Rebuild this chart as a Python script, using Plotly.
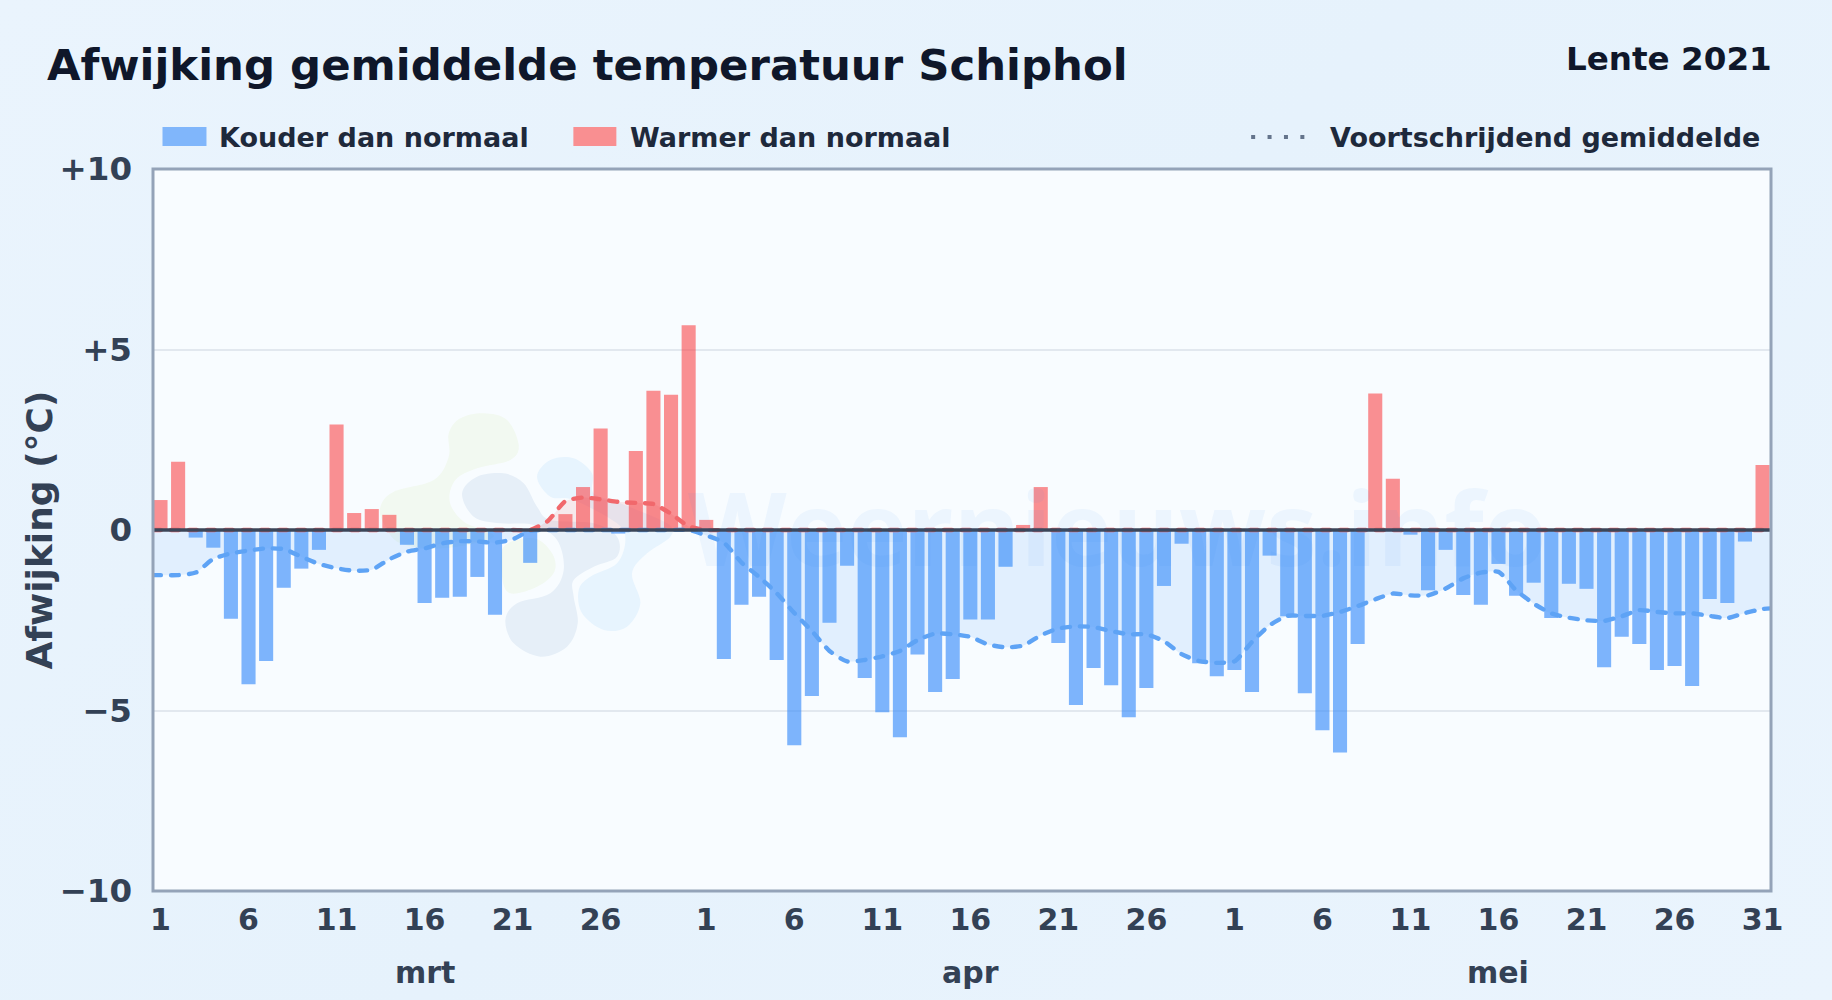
import plotly.graph_objects as go

# ---- data -------------------------------------------------------------
dagen = list(range(1, 93))
afwijking = [
    0.83, 1.89, -0.21, -0.49, -2.46, -4.27, -3.63, -1.6, -1.07, -0.55,
    2.92, 0.47, 0.58, 0.42, -0.41, -2.02, -1.88, -1.85, -1.3, -2.35,
    0.0, -0.91, 0.0, 0.44, 1.19, 2.81, -0.1, 2.19, 3.86, 3.75, 5.67,
    0.28, -3.57, -2.07, -1.85, -3.6, -5.96, -4.6, -2.57, -0.99, -4.1,
    -5.05, -5.74, -3.45, -4.49, -4.13, -2.48, -2.48, -1.02, 0.14, 1.19,
    -3.13, -4.85, -3.82, -4.3, -5.19, -4.38, -1.55, -0.38, -3.69, -4.05,
    -3.88, -4.49, -0.71, -2.39, -4.52, -5.55, -6.16, -3.16, 3.78, 1.42,
    -0.13, -1.67, -0.55, -1.8, -2.07, -0.94, -1.82, -1.46, -2.44, -1.49,
    -1.63, -3.8, -2.96, -3.16, -3.88, -3.77, -4.32, -1.91, -2.02, -0.32, 1.8,
]
gemiddelde = [
    -1.25, -1.25, -1.25, -1.18, -0.8, -0.65, -0.57, -0.51, -0.53, -0.74, -0.94,
    -1.06, -1.13, -1.1, -0.81, -0.6, -0.51, -0.37, -0.31, -0.32, -0.35,
    -0.26, -0.02, 0.25, 0.8, 0.9, 0.85, 0.78, 0.75, 0.72, 0.45, 0.1,
    -0.15, -0.35, -0.9, -1.3, -1.75, -2.3, -2.8, -3.35, -3.64, -3.6,
    -3.5, -3.35, -3.05, -2.87, -2.89, -2.96, -3.17, -3.25, -3.2, -2.92,
    -2.73, -2.67, -2.69, -2.8, -2.89, -2.89, -3.08, -3.44, -3.63, -3.68,
    -3.64, -3.1, -2.64, -2.38, -2.38, -2.38, -2.27, -2.11, -1.92, -1.76,
    -1.81, -1.81, -1.62, -1.34, -1.18, -1.16, -1.67, -2.04, -2.31, -2.43,
    -2.5, -2.52, -2.39, -2.22, -2.27, -2.31, -2.31, -2.38, -2.44, -2.3, -2.19, -2.17,
]
x_ticks = [1, 6, 11, 16, 21, 26, 32, 37, 42, 47, 52, 57, 62, 67, 72, 77, 82, 87, 92]
x_labels = ["1", "6", "11", "16", "21", "26", "1", "6", "11", "16", "21", "26",
            "1", "6", "11", "16", "21", "26", "31"]
y_ticks = [-10, -5, 0, 5, 10]
y_labels = ["\u221210", "\u22125", "0", "+5", "+10"]
maanden = ["mrt", "apr", "mei"]
maand_x = [16.0, 47.03, 77.0]

X_MIN, X_MAX = 0.574, 92.48
gem_dagen = [X_MIN] + dagen + [X_MAX]

koud = [v if v < 0 else None for v in afwijking]
warm = [v if v > 0 else None for v in afwijking]
gem_koud = [min(v, 0) for v in gemiddelde]
gem_warm = [max(v, 0) for v in gemiddelde]

# ---- layout constants ---------------------------------------------------
W, H = 1832, 1000
L, R, T, B = 152.5, 1771, 169, 891
FONT = "DejaVu Sans"


def px(x):
    return (x - L) / (R - L)


def py(y):
    return (B - y) / (B - T)


def blob(points, ox=360, oy=390, k=1 / 3):
    """Closed smooth path through points given in crop pixels."""
    p = [(px(ox + a * k), py(oy + b * k)) for a, b in points]
    n = len(p)
    d = f"M{p[0][0]:.5f},{p[0][1]:.5f}"
    for i in range(n):
        p0, p1, p2, p3 = p[i - 1], p[i], p[(i + 1) % n], p[(i + 2) % n]
        c1 = (p1[0] + (p2[0] - p0[0]) / 6, p1[1] + (p2[1] - p0[1]) / 6)
        c2 = (p2[0] - (p3[0] - p1[0]) / 6, p2[1] - (p3[1] - p1[1]) / 6)
        d += f" C{c1[0]:.5f},{c1[1]:.5f} {c2[0]:.5f},{c2[1]:.5f} {p2[0]:.5f},{p2[1]:.5f}"
    return d + " Z"


logo_groen = [(265, 130), (300, 85), (370, 70), (440, 90), (475, 165), (450, 210), (350, 235),
              (285, 270), (268, 335), (310, 395), (400, 440), (250, 475), (120, 460), (70, 400),
              (60, 350), (100, 305), (220, 270), (265, 200)]
logo_groen2 = [(430, 470), (520, 445), (575, 490), (582, 545), (530, 590), (450, 610), (425, 560)]
logo_grijs = [(305, 310), (350, 260), (430, 250), (490, 280), (530, 350), (570, 390), (700, 400),
              (770, 440), (770, 500), (700, 530), (640, 570), (640, 620), (652, 700), (620, 770),
              (540, 800), (460, 760), (435, 690), (470, 640), (570, 610), (610, 540), (590, 450),
              (520, 405), (420, 400), (340, 380)]
logo_blauw = [(530, 260), (570, 210), (640, 205), (695, 250), (700, 310), (780, 340), (920, 400),
              (930, 440), (860, 490), (815, 550), (840, 640), (800, 710), (730, 720), (665, 670),
              (655, 600), (690, 560), (770, 520), (795, 450), (770, 400), (640, 330), (570, 320)]

shapes = []
for pts, col in [(logo_groen, "#f2f9f1"), (logo_groen2, "#f2f9f1"),
                 (logo_grijs, "#e6eff8"), (logo_blauw, "#e7f4fe")]:
    shapes.append(dict(type="path", xref="paper", yref="paper", path=blob(pts),
                       fillcolor=col, line_width=0, layer="below"))

# zero line above the bars
shapes.append(dict(type="line", xref="paper", yref="y", x0=0, x1=1, y0=0, y1=0,
                   line=dict(color="#3b4659", width=3.5), layer="above"))

# plot frame
shapes.append(dict(type="rect", xref="paper", yref="paper", x0=0, x1=1, y0=0, y1=1,
                   fillcolor="rgba(0,0,0,0)", line=dict(color="#94a3b8", width=3), layer="above"))

# legend keys
shapes.append(dict(type="rect", xref="paper", yref="paper", x0=px(162), x1=px(206), y0=py(146), y1=py(127),
                   fillcolor="#80b6fb", line_width=0))
shapes.append(dict(type="rect", xref="paper", yref="paper", x0=px(573), x1=px(616), y0=py(146), y1=py(127),
                   fillcolor="#f98f91", line_width=0))
shapes.append(dict(type="line", xref="paper", yref="paper", x0=px(1251), x1=px(1309), y0=py(137), y1=py(137),
                   line=dict(color="#64748b", width=4, dash="4px,12.4px")))

fig = go.Figure()
fig.add_bar(x=dagen, y=koud, marker=dict(color="rgba(54,139,251,0.64)", line_width=0), name="Kouder dan normaal")
fig.add_bar(x=dagen, y=warm, marker=dict(color="rgba(250,64,67,0.58)", line_width=0), name="Warmer dan normaal")
fig.add_scatter(x=gem_dagen, y=gem_koud, mode="lines", name="Voortschrijdend gemiddelde",
                line=dict(color="#5ea3f5", width=4.4, dash="8px,10px", shape="spline", smoothing=0.6),
                fill="tozeroy", fillcolor="rgba(96,165,250,0.15)")
fig.add_scatter(x=gem_dagen, y=gem_warm, mode="lines", name="Voortschrijdend gemiddelde (warm)",
                line=dict(color="#f1686c", width=4.4, dash="8px,10px", shape="spline", smoothing=0.6),
                fill="tozeroy", fillcolor="rgba(239,68,68,0.10)")


def tekst(text, x, y, size, color, xanchor="left", yref="paper", xref="paper", family=FONT, **kw):
    return dict(text=f"<b>{text}</b>", x=x, y=y, xref=xref, yref=yref, xanchor=xanchor, yanchor="middle",
                showarrow=False, font=dict(family=family, size=size, color=color), **kw)


annotations = [
    tekst("Weernieuws.info", px(1117), py(526), 102, "rgba(59,130,246,0.06)", xanchor="center", family="Open Sans"),
    tekst("Afwijking gemiddelde temperatuur Schiphol", px(44), py(65), 43.4, "#0f172a"),
    tekst("Lente 2021", px(1774), py(59), 32.6, "#0f172a", xanchor="right"),
    tekst("Kouder dan normaal", px(217), py(137), 27, "#1e293b"),
    tekst("Warmer dan normaal", px(628), py(137), 27, "#1e293b"),
    tekst("Voortschrijdend gemiddelde", px(1762), py(137), 27, "#1e293b", xanchor="right"),
    tekst("Afwijking (\u00b0C)", px(38), py(530), 36, "#334155", xanchor="center", textangle=-90),
]
for naam, xm in zip(maanden, maand_x):
    annotations.append(tekst(naam, xm, py(972), 30, "#334155", xanchor="center", xref="x"))

fig.update_layout(
    width=W, height=H,
    margin=dict(l=L, r=W - R, t=T, b=H - B, pad=0),
    paper_bgcolor="rgba(0,0,0,0)",
    plot_bgcolor="#f8fcff",
    barmode="overlay", bargap=0.2, showlegend=False,
    shapes=shapes, annotations=annotations,
    font=dict(family=FONT),
    xaxis=dict(range=[X_MIN, X_MAX], tickmode="array", tickvals=x_ticks, ticktext=[f"<b>{t}</b>" for t in x_labels],
               tickfont=dict(size=30, color="#334155", family=FONT), ticks="", showgrid=False, zeroline=False,
               showline=False, ticklabelstandoff=8),
    yaxis=dict(range=[-10, 10], tickmode="array", tickvals=y_ticks, ticktext=[f"<b>{t}</b>" for t in y_labels],
               tickfont=dict(size=32.5, color="#334155", family=FONT), ticks="", showgrid=True,
               gridcolor="#e2e8ef", gridwidth=2, zeroline=False, ticklabelstandoff=20, showline=False),
)

fig.write_html(
    "out.html",
    config={"displayModeBar": False},
    post_script="document.body.style.margin='0';document.body.style.background="
                "'linear-gradient(135deg,#eaf4fd 0%,#e6f2fc 50%,#eaf4fd 100%)';"
                "document.querySelectorAll('.scatterlayer .js-line').forEach(function(e){e.style.strokeLinecap='round';});",
)
